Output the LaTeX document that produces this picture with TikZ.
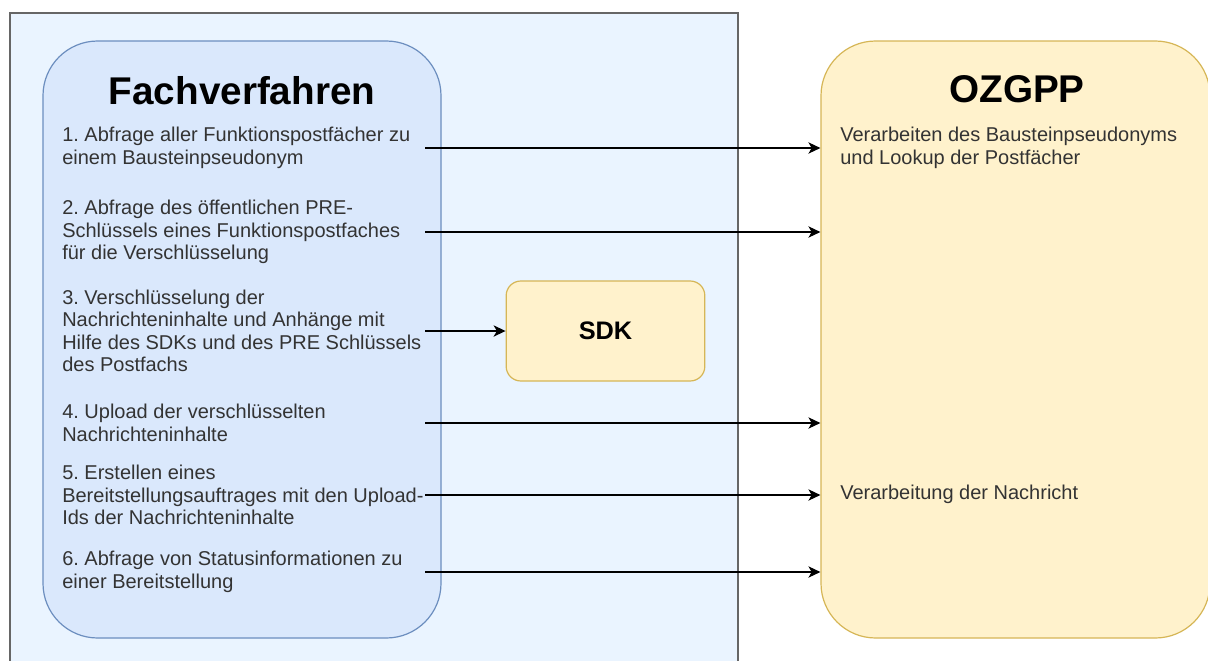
\documentclass[tikz,border=0pt]{standalone}
\usepackage{fontspec}
\setmainfont{Liberation Sans}
\frenchspacing
\usetikzlibrary{arrows.meta,positioning}
\definecolor{bgblue}{HTML}{EAF4FF}
\definecolor{bgline}{HTML}{666666}
\definecolor{fvfill}{HTML}{DAE8FC}
\definecolor{fvline}{HTML}{6C8EBF}
\definecolor{ozfill}{HTML}{FFF2CC}
\definecolor{ozline}{HTML}{D6B656}
\definecolor{txtgrey}{HTML}{333333}
\tikzset{%
	lane/.style     = {draw=bgline, fill=bgblue, line width=1.1pt},
	bigbox/.style   = {rectangle, rounded corners=41pt, line width=0.9pt, inner sep=0pt},
	sdkbox/.style   = {rectangle, rounded corners=11pt, draw=ozline, fill=ozfill, line width=0.9pt, minimum width=149pt, minimum height=75pt, font=\fontsize{19}{22}\selectfont\bfseries},
	title/.style    = {anchor=base, font=\fontsize{29}{32}\selectfont\bfseries},
	stepnote/.style = {anchor=west, inner sep=0pt, align=left, text=txtgrey, font=\fontsize{15}{16.8}\selectfont},
	arrow/.style    = {line width=1pt,-{Stealth[length=9pt,width=8.5pt,inset=2.5pt]}},
}

\begin{document}
\begin{tikzpicture}[x=0.75pt,y=-0.75pt]
	\useasboundingbox (0,0) rectangle (1208,661);
	\clip (0,0) rectangle (1208,661);
	\draw[lane] (10,13) rectangle (738,680);
	
	\node[bigbox, draw=fvline, fill=fvfill, minimum width=298.5pt, minimum height=447.75pt] (fv) at (242,339.5) {};
	\node[bigbox, draw=ozline, fill=ozfill, minimum width=291.75pt, minimum height=447.75pt] (oz) at (1015.5,339.5) {};
	\node[sdkbox] (sdk) at (605.5,331) {SDK};
	
	\node[title] (fvtitle) at (242,104) {Fachverfahren};
	\node[title] (oztitle) at (1017,102) {OZGPP};
	
	% start of the outgoing arrows
	\coordinate (out) at (425,0);
	
	\node[stepnote] (s1) at (62,148) {1. Abfrage aller Funktionspostfächer zu\\einem Bausteinpseudonym};
	\node[stepnote] (s2) at (62,232) {2. Abfrage des öffentlichen PRE-\\Schlüssels eines Funktionspostfaches\\für die Verschlüsselung};
	\node[stepnote] (s3) at (62,331) {3. Verschlüsselung der\\Nachrichteninhalte und Anhänge mit\\Hilfe des SDKs und des PRE Schlüssels\\des Postfachs};
	\node[stepnote] (s4) at (62,423) {4. Upload der verschlüsselten\\Nachrichteninhalte};
	\node[stepnote] (s5) at (62,495) {5. Erstellen eines\\Bereitstellungsauftrages mit den Upload-\\Ids der Nachrichteninhalte};
	\node[stepnote] (s6) at (62,572) {6. Abfrage von Statusinformationen zu\\einer Bereitstellung};
	
	\node[stepnote] (oz1) at (840,148) {Verarbeiten des Bausteinpseudonyms\\und Lookup der Postfächer};
	\node[stepnote] (oz5) at (840,494) {Verarbeitung der Nachricht};
	
	\draw[arrow] (s1 -| out) -- (s1 -| oz.west);
	\draw[arrow] (s2 -| out) -- (s2 -| oz.west);
	\draw[arrow] (s3 -| out) -- (sdk.west);
	\draw[arrow] (s4 -| out) -- (s4 -| oz.west);
	\draw[arrow] (s5 -| out) -- (s5 -| oz.west);
	\draw[arrow] (s6 -| out) -- (s6 -| oz.west);
\end{tikzpicture}
\end{document}
